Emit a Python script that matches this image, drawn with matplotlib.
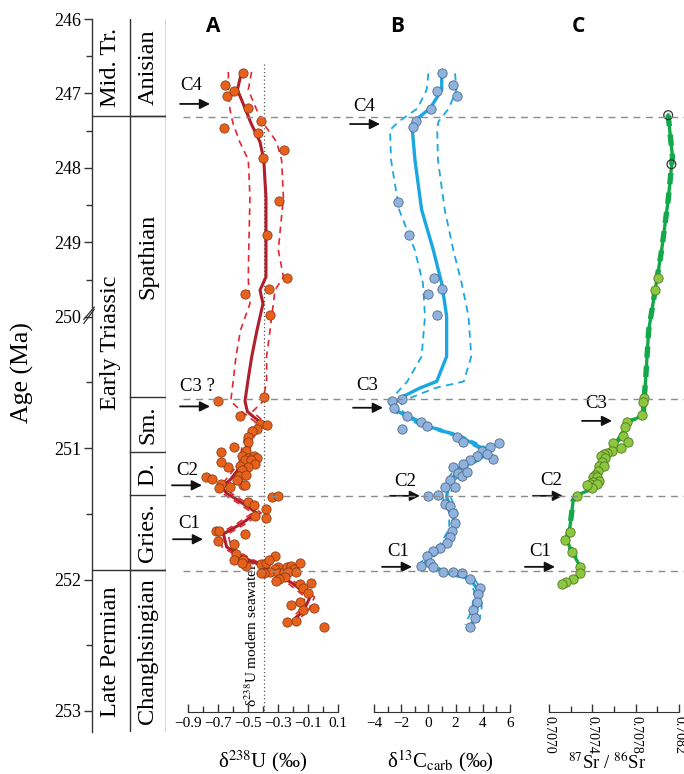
import numpy as np
import matplotlib
matplotlib.use("Agg")
import matplotlib.pyplot as plt
from matplotlib.lines import Line2D
from matplotlib.transforms import blended_transform_factory

plt.rcParams["font.family"] = "serif"
plt.rcParams["font.serif"] = ["Liberation Serif", "DejaVu Serif"]
plt.rcParams["mathtext.fontset"] = "stix"

# ---- panel A : d238U ----
u_age = [246.72, 246.88, 247.04, 246.96, 247.20, 247.37, 247.46, 247.53, 247.76, 247.86,
         248.44, 248.90, 249.47, 249.63, 249.69, 249.97,
         250.64, 250.61, 250.75, 250.81, 250.82, 250.85, 250.87, 250.91, 250.95, 250.99,
         251.03, 251.02, 251.06, 251.07, 251.06, 251.07, 251.09, 251.09, 251.12, 251.13,
         251.14, 251.16, 251.14, 251.10, 251.21, 251.20, 251.28, 251.24, 251.22, 251.23,
         251.27, 251.30, 251.29, 251.28, 251.37, 251.36, 251.41, 251.43, 251.46, 251.53,
         251.51, 251.63, 251.63, 251.65, 251.70, 251.73, 251.80, 251.85, 251.85, 251.89,
         251.87, 251.88, 251.87, 251.82, 251.85, 251.90, 251.92, 251.94, 251.95, 251.95,
         251.95, 251.94, 251.90, 251.89, 251.92, 251.94, 251.98, 251.99, 252.01, 251.87,
         251.94, 252.03, 252.02, 252.06, 252.10, 252.19, 252.17, 252.21, 252.23, 252.31,
         252.32, 252.36]
u_val = [-0.53, -0.65, -0.64, -0.59, -0.50, -0.41, -0.66, -0.43, -0.26, -0.40,
         -0.29, -0.37, -0.24, -0.36, -0.52, -0.35,
         -0.70, -0.39, -0.55, -0.42, -0.37, -0.44, -0.47, -0.50, -0.50, -0.59,
         -0.68, -0.51, -0.54, -0.50, -0.46, -0.44, -0.52, -0.48, -0.45, -0.55,
         -0.50, -0.54, -0.63, -0.68, -0.56, -0.51, -0.53, -0.57, -0.78, -0.74,
         -0.68, -0.69, -0.62, -0.52, -0.34, -0.30, -0.50, -0.46, -0.38, -0.38,
         -0.45, -0.71, -0.69, -0.52, -0.70, -0.59, -0.58, -0.59, -0.53, -0.51,
         -0.54, -0.41, -0.38, -0.32, -0.36, -0.30, -0.32, -0.35, -0.39, -0.41,
         -0.30, -0.26, -0.24, -0.21, -0.19, -0.23, -0.25, -0.29, -0.31, -0.15,
         -0.18, -0.15, -0.08, -0.13, -0.10, -0.21, -0.15, -0.06, -0.13, -0.18,
         -0.24, 0.01]

u_line_age = [246.71, 246.95, 247.22, 247.40, 247.65, 247.89, 248.40, 249.10, 249.46, 249.64,
              249.82, 250.10, 250.30, 250.48, 250.64, 250.72, 250.80, 250.90, 250.99, 251.11,
              251.24, 251.29, 251.34, 251.42, 251.49, 251.57, 251.65, 251.75, 251.84, 251.92,
              252.03, 252.13, 252.24, 252.28]
u_line = [-0.542, -0.571, -0.515, -0.480, -0.420, -0.395, -0.380, -0.380, -0.380, -0.420,
          -0.400, -0.440, -0.475, -0.500, -0.520, -0.504, -0.420, -0.487, -0.513, -0.531,
          -0.620, -0.676, -0.642, -0.531, -0.442, -0.542, -0.664, -0.642, -0.509, -0.353,
          -0.198, -0.087, -0.131, -0.176]
u_lo = [-0.631, -0.630, -0.620, -0.600, -0.555, -0.498, -0.487, -0.495, -0.498, -0.495,
        -0.487, -0.550, -0.580, -0.598, -0.615, -0.540, -0.450, -0.515, -0.540, -0.560,
        -0.650, -0.705, -0.672, -0.560, -0.470, -0.572, -0.694, -0.672, -0.539, -0.383,
        -0.228, -0.117, -0.161, -0.206]
u_hi = [-0.476, -0.498, -0.442, -0.398, -0.309, -0.276, -0.264, -0.298, -0.264, -0.320,
        -0.331, -0.353, -0.376, -0.376, -0.400, -0.470, -0.390, -0.457, -0.483, -0.501,
        -0.590, -0.646, -0.612, -0.501, -0.412, -0.512, -0.634, -0.612, -0.479, -0.323,
        -0.168, -0.057, -0.101, -0.146]
u_seawater = -0.39

# ---- panel B : d13C carb ----
c_age = [246.73, 246.89, 246.96, 247.04, 247.21, 247.37, 247.45, 248.45, 248.90, 249.47,
         249.63, 249.69, 249.97,
         250.64, 250.62, 250.69, 250.75, 250.85, 250.80, 250.83, 250.91, 250.95, 251.02,
         250.99, 250.96, 251.08, 251.04, 251.06, 251.09, 251.12, 251.14, 251.19, 251.24,
         251.21, 251.18, 251.29, 251.29, 251.36, 251.35, 251.42, 251.44, 251.49, 251.57,
         251.63, 251.67, 251.72, 251.76, 251.78, 251.82, 251.89, 251.87, 251.90, 251.94,
         251.94, 251.95, 251.99, 252.06, 252.11, 252.17, 252.23, 252.29, 252.36]
c_val = [0.98, 1.78, 0.61, 2.08, 0.19, -0.91, -1.16, -2.21, -1.43, 0.41,
         0.98, -0.05, 0.61,
         -2.70, -1.97, -2.50, -1.60, -1.97, -0.57, -0.13, 2.08, 2.57, 3.92,
         4.53, 5.22, 4.77, 4.28, 3.55, 3.06, 2.57, 1.83, 2.20, 1.59,
         2.45, 2.81, 1.22, 1.96, -0.01, 0.73, 1.22, 1.59, 1.83, 1.96,
         1.71, 1.59, 1.34, 0.85, 0.36, -0.13, -0.57, 0.12, 0.36, 1.10,
         1.83, 2.45, 3.06, 3.79, 3.67, 3.55, 3.30, 3.43, 3.06]

c_line_age = [246.73, 246.95, 247.20, 247.38, 247.49, 247.89, 248.56, 249.10, 249.55, 249.99,
              250.30, 250.49, 250.54, 250.61, 250.65, 250.72, 250.82, 250.90, 251.00, 251.05,
              251.11, 251.16, 251.27, 251.37, 251.49, 251.61, 251.72, 251.82, 251.87, 251.94,
              251.99, 252.08, 252.23, 252.34]
c_line = [0.98, 0.98, 0.12, -1.11, -1.18, -0.99, -0.50, 0.36, 0.98, 1.34,
          1.34, 0.61, -0.62, -1.97, -2.46, -2.21, -0.37, 2.08, 4.04, 4.28,
          3.06, 2.20, 1.47, 1.34, 1.83, 1.83, 1.22, 0.12, -0.25, 1.10,
          3.06, 3.67, 3.55, 3.18]
c_lo = [0.00, -0.13, -0.80, -2.21, -2.82, -2.75, -2.15, -1.00, -0.40, -0.25,
        -0.50, -1.55, -2.00, -2.60, -2.80, -2.50, -0.65, 1.80, 3.75, 3.98,
        2.76, 1.90, 1.17, 1.04, 1.53, 1.53, 0.92, -0.18, -0.55, 0.80,
        2.76, 3.37, 3.20, 2.70]
c_hi = [1.96, 2.06, 1.50, 0.73, 0.65, 0.70, 1.20, 1.83, 2.45, 2.95,
        3.15, 2.60, 0.50, -1.20, -2.00, -1.90, -0.10, 2.35, 4.35, 4.58,
        3.36, 2.50, 1.77, 1.64, 2.13, 2.13, 1.52, 0.42, 0.05, 1.40,
        3.36, 3.97, 3.90, 3.65]

# ---- panel C : 87Sr/86Sr ----
sr_open_age = [247.29, 247.95]
sr_open_val = [0.70810, 0.70813]
sr_age = [249.47, 249.64, 250.618, 250.644, 250.745, 250.801, 250.834, 250.905, 250.948, 250.956,
          250.994, 251.019, 251.032, 251.042, 251.057, 251.075, 251.100, 251.133, 251.133, 251.168,
          251.202, 251.214, 251.214, 251.245, 251.252, 251.270, 251.270, 251.303, 251.278, 251.361,
          251.632, 251.696, 251.784, 251.904, 251.944, 251.995, 252.013, 252.030]
sr_val = [0.70801, 0.70798, 0.707877, 0.707871, 0.707862, 0.707717, 0.707702, 0.707680, 0.707732, 0.707594,
          0.707662, 0.707578, 0.707538, 0.707508, 0.707477, 0.707517, 0.707486, 0.707464, 0.707508, 0.707456,
          0.707425, 0.707403, 0.707446, 0.707464, 0.707409, 0.707378, 0.707446, 0.707394, 0.707354, 0.707261,
          0.707194, 0.707148, 0.707209, 0.707286, 0.707286, 0.707224, 0.707157, 0.707117]
sr_line_age = [247.29, 247.85, 248.43, 249.10, 249.64, 250.10, 250.50, 250.63, 250.745, 250.77,
               250.80, 250.90, 250.99, 251.06, 251.15, 251.24, 251.32, 251.35, 251.39, 251.59,
               251.70, 251.80, 251.92, 251.99, 252.04]
sr_line = [0.70810, 0.70814, 0.70810, 0.70804, 0.70798, 0.70792, 0.70789, 0.707877, 0.707871, 0.707809,
           0.707717, 0.707671, 0.707594, 0.707502, 0.707456, 0.707409, 0.707363, 0.707271, 0.707224, 0.707194,
           0.707163, 0.707224, 0.707302, 0.707255, 0.707132]
sr_band = 0.000012

# ---- stratigraphy ----
systems = ["Mid. Tr.", "Early Triassic", "Late Permian"]
system_edges = [246.0, 247.3, 251.93, 253.16]
stages = ["Anisian", "Spathian", "Sm.", "D.", "Gries.", "Changhsingian"]
stage_edges = [246.0, 247.3, 250.61, 251.03, 251.36, 251.93, 253.16]
events = [247.32, 250.62, 251.36, 251.93]

arrows_a = [("C4", -0.953, -0.753, 247.14, -0.88, 246.89),
            ("C3 ?", -0.953, -0.753, 250.68, -0.84, 250.53),
            ("C2", -1.007, -0.807, 251.28, -0.907, 251.17),
            ("C1", -1.0, -0.8, 251.69, -0.893, 251.57)]
arrows_b = [("C4", -5.76, -3.56, 247.41, -4.74, 247.18),
            ("C3", -5.54, -3.34, 250.69, -4.51, 250.52),
            ("C2", -2.82, -0.62, 251.36, -1.72, 251.25),
            ("C1", -3.41, -1.21, 251.90, -2.24, 251.78)]
arrows_c = [("C3", 0.707305, 0.707582, 250.79, 0.707434, 250.66),
            ("C2", 0.706852, 0.707129, 251.36, 0.707018, 251.24),
            ("C1", 0.706778, 0.707055, 251.90, 0.706917, 251.78)]

# the age axis is broken at 250 Ma: upper part is compressed
K = 74.5 / 131.5


def fwd(a):
    a = np.asarray(a, dtype=float)
    return np.where(a < 250, (a - 250) * K, a - 250)


def inv(t):
    t = np.asarray(t, dtype=float)
    return np.where(t < 0, t / K + 250, t + 250)


def mid(a, b):
    return float(inv((fwd(a) + fwd(b)) / 2))


W, H = 684, 774
fig = plt.figure(figsize=(W / 100, H / 100), dpi=100)


def px_axes(x0, x1, y0, y1):
    return fig.add_axes([x0 / W, 1 - y1 / H, (x1 - x0) / W, (y1 - y0) / H])


# ---- age / stratigraphic column ----
axs = px_axes(92, 166, 19, 732)
axs.set_yscale("function", functions=(fwd, inv))
axs.set_ylim(253.16, 246)
axs.set_xlim(0, 1)
for s in ["top", "right", "bottom"]:
    axs.spines[s].set_visible(False)
axs.spines["left"].set_linewidth(1.0)
axs.spines["left"].set_color("#333333")
axs.set_xticks([])
axs.set_yticks(range(246, 254))
axs.set_yticklabels([str(v) for v in range(246, 254)])
axs.set_yticks(np.arange(246.5, 253, 1.0), minor=True)
axs.yaxis.set_minor_formatter(plt.NullFormatter())
axs.tick_params(axis="y", which="major", direction="out", length=6, width=1, labelsize=13, pad=2, color="#333333")
axs.tick_params(axis="y", which="minor", direction="out", length=4, width=1, color="#333333")
xc = 0.51
lc = "#333333"
axs.plot([xc, xc], [246, 253.16], color=lc, lw=1)
axs.plot([1, 1], [246, 253.16], color=lc, lw=1)
for e in system_edges[1:-1]:
    axs.plot([0, 1], [e, e], color=lc, lw=1)
for e in stage_edges[1:-1]:
    axs.plot([xc, 1], [e, e], color=lc, lw=1)
for i, name in enumerate(systems):
    axs.text(xc / 2, mid(system_edges[i], system_edges[i + 1]), name, rotation=90,
             ha="center", va="center", fontsize=17.5)
for i, name in enumerate(stages):
    axs.text((xc + 1) / 2, mid(stage_edges[i], stage_edges[i + 1]), name, rotation=90,
             ha="center", va="center", fontsize=17.5)
# break marks at 250 Ma
tb = blended_transform_factory(axs.transAxes, axs.transData)
for off in (0.0, 0.03):
    axs.plot([-0.11, 0.03], [250.05 - off, 249.90 - off], color=lc, lw=0.9,
             transform=tb, clip_on=False)
fig.text(22 / W, 1 - 373 / H, "Age (Ma)", rotation=90, ha="center", va="center", fontsize=18.5)


def panel(x0, x1, xlim, major, minor, lsize=11, pad=4):
    ax = px_axes(x0, x1, 19, 711.5)
    ax.set_yscale("function", functions=(fwd, inv))
    ax.set_ylim(253, 246)
    ax.set_xlim(*xlim)
    for s in ["top", "right", "left"]:
        ax.spines[s].set_visible(False)
    ax.spines["bottom"].set_color("#333333")
    ax.set_yticks([])
    ax.set_yticks([], minor=True)
    ax.set_xticks(major)
    ax.set_xticks(minor, minor=True)
    ax.tick_params(axis="x", which="major", direction="in", length=6, width=1, labelsize=lsize, pad=pad, color="#333333")
    ax.tick_params(axis="x", which="minor", direction="in", length=4, width=1, color="#333333")
    ax.patch.set_alpha(0)
    return ax


axA = panel(188, 338, (-0.9, 0.1), np.arange(-0.9, 0.15, 0.2), np.arange(-0.9, 0.15, 0.1))
axA.set_xticklabels(["\u22120.9", "\u22120.7", "\u22120.5", "\u22120.3", "\u22120.1", "0.1"])
axB = panel(374, 510, (-4, 6), [-4, -2, 0, 2, 4, 6], range(-4, 7))
axB.set_xticklabels(["\u22124", "\u22122", "0", "2", "4", "6"])
axC = panel(549, 679, (0.7070, 0.7082), [0.7070, 0.7074, 0.7078, 0.7082],
            np.arange(0.7070, 0.70821, 0.0002), lsize=10, pad=3)
axC.set_xticklabels(["0.7070", "0.7074", "0.7078", "0.7082"], rotation=-90)

# event lines across the panels
tf = blended_transform_factory(fig.transFigure, axA.transData)
for e in events:
    fig.add_artist(Line2D([183 / W, 1.0], [e, e], transform=tf, color="#8c8c8c",
                          lw=1.0, dashes=(5, 4), zorder=1))

# A
axA.plot([u_seawater, u_seawater], [246.6, 253], color="#555555", lw=0.9, ls=(0, (1, 2)))
axA.annotate("\u03b4$^{238}$U modern seawater", xy=(u_seawater, 253), xytext=(-3, 3),
             textcoords="offset points", rotation=90, ha="right", va="bottom", fontsize=11)
axA.plot(u_lo, u_line_age, color="#e3262f", lw=1.2, dashes=(4, 3))
axA.plot(u_hi, u_line_age, color="#e3262f", lw=1.2, dashes=(4, 3))
axA.plot(u_line, u_line_age, color="#b01f2b", lw=2.2, zorder=3)
axA.scatter(u_val, u_age, s=45, color="#e8611c", edgecolor="#7a3510", lw=0.5, zorder=4, clip_on=False)

# B
axB.plot(c_lo, c_line_age, color="#1ba7e1", lw=1.3, dashes=(4, 3))
axB.plot(c_hi, c_line_age, color="#1ba7e1", lw=1.3, dashes=(4, 3))
axB.plot(c_line, c_line_age, color="#1ba7e1", lw=2.4, zorder=3)
axB.scatter(c_val, c_age, s=45, color="#8fb3de", edgecolor="#4f6a8a", lw=0.6, zorder=4, clip_on=False)

# C
sl = np.array(sr_line)
axC.plot(sl - sr_band, sr_line_age, color="#13a84a", lw=2.0, dashes=(4, 3))
axC.plot(sl + sr_band, sr_line_age, color="#13a84a", lw=2.0, dashes=(4, 3))
axC.plot(sr_line, sr_line_age, color="#13a84a", lw=2.4, zorder=3)
axC.scatter(sr_val, sr_age, s=45, color="#8dc63f", edgecolor="#4e7a1f", lw=0.6, zorder=4, clip_on=False)
axC.scatter(sr_open_val, sr_open_age, s=40, facecolor="none", edgecolor="#333333", lw=0.9, zorder=4, clip_on=False)

for ax, arrs in [(axA, arrows_a), (axB, arrows_b), (axC, arrows_c)]:
    for lab, xs, xe, ya, xl, yl in arrs:
        ax.annotate("", xy=(xe, ya), xytext=(xs, ya), annotation_clip=False,
                    arrowprops=dict(arrowstyle="-|>", color="#111111", lw=1.3,
                                    mutation_scale=15, shrinkA=0, shrinkB=0))
        ax.text(xl, yl, lab, ha="center", va="center", fontsize=13.5, clip_on=False)

# panel letters and axis titles
for x, t in [(213, "A"), (397, "B"), (578, "C")]:
    fig.text(x / W, 1 - 27 / H, t, ha="center", va="center", fontsize=15,
             fontweight="bold", family=["Open Sans", "DejaVu Sans"])
fig.text(263 / W, 1 - 761 / H, "\u03b4$^{238}$U (\u2030)", ha="center", va="center", fontsize=15)
fig.text(440 / W, 1 - 761 / H, "\u03b4$^{13}$C$_{\\rm carb}$ (\u2030)", ha="center", va="center", fontsize=15)
fig.text(607 / W, 1 - 762 / H, "$^{87}$Sr / $^{86}$Sr", ha="center", va="center", fontsize=13.5)

fig.savefig("out.png", dpi=100)
